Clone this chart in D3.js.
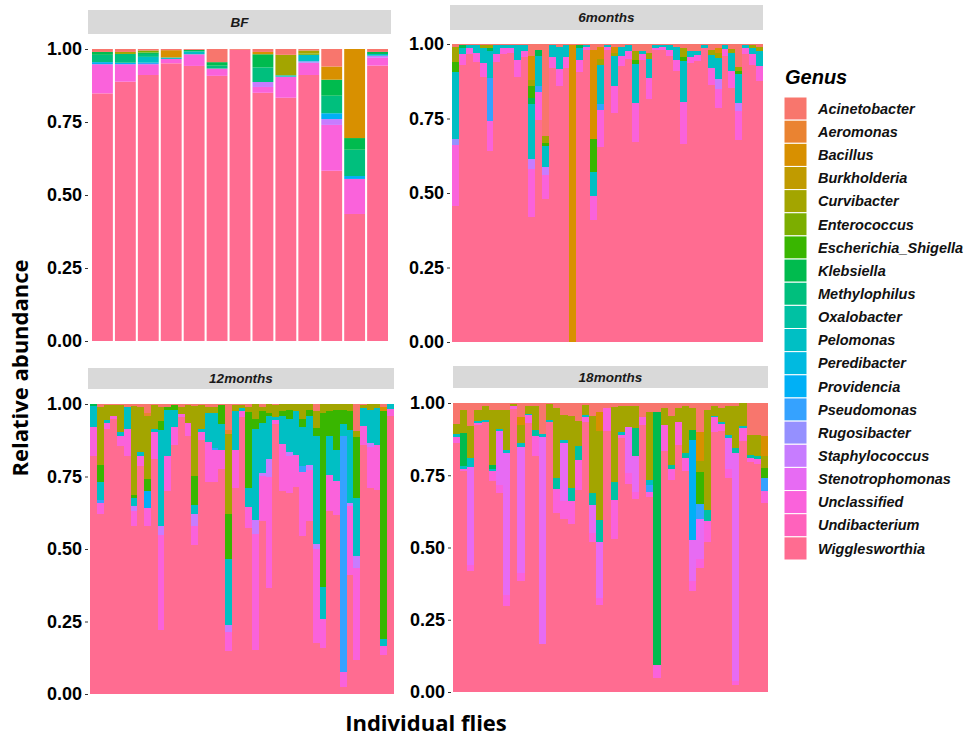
<!DOCTYPE html>
<html>
<head>
<meta charset="utf-8">
<script src="https://cdn.jsdelivr.net/npm/d3@7"></script>
<style>
  body { margin: 0; background: #fff; }
  svg { display: block; font-family: "Liberation Sans", Arial, sans-serif; }
</style>
</head>
<body>
<svg id="chart" width="970" height="738"></svg>
<script>
/* DATA */
const genera = ["Acinetobacter","Aeromonas","Bacillus","Burkholderia","Curvibacter","Enterococcus",
  "Escherichia_Shigella","Klebsiella","Methylophilus","Oxalobacter","Pelomonas","Peredibacter",
  "Providencia","Pseudomonas","Rugosibacter","Staphylococcus","Stenotrophomonas","Unclassified",
  "Undibacterium","Wigglesworthia"];
// short codes used in the fly tables below, same order as genera
const codes = ["Ac","Ae","Ba","Bu","Cu","En","Es","Kl","Me","Ox","Pl","Pr","Pv","Ps","Ru","Sa","St","Un","Ud","Wi"];
const palette = ["#F8766D","#EA8331","#D89000","#C09B00","#A3A500","#7CAE00","#39B600","#00BB4E","#00BF7D","#00C1A3",
  "#00BFC4","#00BAE0","#00B0F6","#35A2FF","#9590FF","#C77CFF","#E76BF3","#FA62DB","#FF62BC","#FF6C91"];
const yTicks = [0, 0.25, 0.5, 0.75, 1];
const groups = ["BF","6months","12months","18months"];

const bfFlies = [
  {Ac:.01, Kl:.01, Me:.025, Pv:.007, Un:.10, Wi:.848},
  {Ac:.01, Cu:.007, Me:.03, Pv:.005, Un:.06, Wi:.888},
  {Ac:.005, En:.007, Kl:.005, Me:.01, Pl:.02, Ps:.005, Un:.037, Wi:.911},
  {Ac:.004, Ba:.025, Pl:.005, Un:.015, Wi:.951},
  {Ac:.003, Kl:.005, Pl:.01, Un:.04, Wi:.942},
  {Ac:.045, Kl:.012, Me:.01, Un:.025, Wi:.908},
  {Ac:.003, Wi:.997},
  {Ac:.01, Ba:.008, Kl:.045, Me:.05, Sa:.017, Un:.02, Wi:.85},
  {Ac:.02, Cu:.07, Pl:.005, Un:.072, Wi:.833},
  {Ac:.005, Cu:.01, En:.005, Pl:.022, Ru:.005, Un:.042, Wi:.911},
  {Ac:.06, Ba:.045, Kl:.055, Me:.06, Pv:.02, Sa:.02, Un:.157, Wi:.583},
  {Ba:.305, Kl:.04, Me:.09, Pv:.01, Un:.12, Wi:.435},
  {Ac:.01, Kl:.007, Pl:.006, Sa:.007, Un:.027, Wi:.943}
];

const m6Flies = [
  {Ac:.01, Cu:.05, Es:.034, Pl:.225, Ru:.02, Un:.205, Wi:.456},
  {Ac:.005, Kl:.01, Pl:.02, Un:.035, Wi:.93},
  {Ac:.005, Pl:.01, Un:.02, Wi:.965},
  {Ac:.005, Pl:.025, Un:.03, Wi:.94},
  {Ac:.005, Cu:.01, Pl:.05, Un:.045, Wi:.89},
  {Ac:.005, Cu:.01, Kl:.01, Pl:.09, Ps:.145, Un:.10, Wi:.64},
  {Ac:.005, Pl:.03, Un:.027, Wi:.938},
  {Ac:.005, Pl:.01, Un:.02, Wi:.965},
  {Ac:.005, Pl:.01, Un:.015, Wi:.97},
  {Ac:.005, Pl:.05, Un:.055, Wi:.89},
  {Ac:.005, Pl:.02, Un:.02, Wi:.955},
  {Ac:.04, Ba:.08, Cu:.02, Es:.04, Kl:.02, Pl:.185, Sa:.035, Un:.16, Wi:.42},
  {Ac:.02, Kl:.02, Pl:.10, Ps:.02, Un:.095, Wi:.745},
  {Ac:.31, Cu:.022, Es:.01, Pl:.07, Sa:.028, Un:.08, Wi:.48},
  {Ac:.005, Pl:.04, Un:.035, Wi:.92},
  {Ac:.01, Pl:.075, Un:.055, Wi:.86},
  {Ac:.005, Pl:.04, Un:.035, Wi:.92},
  {Ac:.005, Ba:.995},
  {Ac:.005, Kl:.01, Pl:.04, Un:.04, Wi:.905},
  {Ac:.005, Pl:.005, Un:.01, Wi:.98},
  {Ac:.02, Ba:.30, Es:.11, Pl:.08, Un:.08, Wi:.41},
  {Ac:.01, Ba:.04, Cu:.02, Pl:.13, Ps:.02, Un:.125, Wi:.655},
  {Ac:.005, Pl:.005, Un:.01, Wi:.98},
  {Ac:.01, Ba:.02, Cu:.01, Pl:.10, Un:.09, Wi:.77},
  {Ac:.01, Pl:.03, Un:.035, Wi:.925},
  {Ac:.005, Pl:.02, Un:.025, Wi:.95},
  {Ac:.025, Cu:.028, Es:.013, Pl:.132, Un:.13, Wi:.672},
  {Ac:.025, Pl:.008, Un:.022, Wi:.945},
  {Ac:.03, Cu:.022, Pl:.062, Un:.07, Wi:.816},
  {Ac:.005, Pl:.01, Un:.005, Wi:.98},
  {Ac:.005, Pl:.005, Un:.01, Wi:.98},
  {Ac:.005, Pl:.015, Un:.02, Wi:.96},
  {Ac:.01, Pl:.045, Un:.035, Wi:.91},
  {Ac:.015, Cu:.028, Es:.013, Pl:.138, Un:.142, Wi:.664},
  {Ac:.025, Pl:.017, Un:.023, Wi:.935},
  {Ac:.025, Pl:.012, Un:.02, Wi:.943},
  {Ac:.003, Pl:.01, Wi:.987},
  {Ac:.02, Cu:.017, Pl:.045, Un:.055, Wi:.863},
  {Ac:.015, Ba:.015, Cu:.017, Pl:.07, Sa:.035, Un:.064, Wi:.784},
  {Ac:.005, Pl:.012, Un:.022, Wi:.961},
  {Ac:.018, Cu:.011, Pl:.06, Un:.06, Wi:.851},
  {Ac:.076, Cu:.013, Es:.011, Pl:.098, Sa:.028, Un:.096, Wi:.678},
  {Ac:.005, Pl:.009, Un:.019, Wi:.967},
  {Ac:.005, Cu:.008, Pl:.022, Un:.035, Wi:.93},
  {Ac:.01, Cu:.015, Pl:.048, Un:.052, Wi:.875}
];

const m12Flies = [
  {Kl:.008, Pl:.07, Un:.102, Wi:.82},
  {Ac:.01, Cu:.20, Es:.06, Pl:.06, Ps:.01, Un:.04, Wi:.62},
  {Ac:.005, Cu:.05, Pl:.01, Un:.02, Wi:.915},
  {Ac:.005, Cu:.035, Un:.013, Wi:.947},
  {Ac:.005, Cu:.09, Pl:.015, Un:.035, Wi:.855},
  {Ac:.01, Pl:.075, Un:.095, Wi:.82},
  {Ac:.008, Cu:.305, Es:.01, Pl:.03, Sa:.017, Un:.052, Wi:.578},
  {Ac:.01, Cu:.155, Pl:.015, Un:.035, Wi:.785},
  {Ac:.03, Ae:.01, Cu:.22, Es:.04, Pv:.06, Un:.06, Wi:.58},
  {Ac:.005, Cu:.08, Pl:.012, Un:.093, Wi:.81},
  {Ac:.01, Cu:.05, Es:.03, Pl:.33, Sa:.03, Un:.33, Wi:.22},
  {Ac:.01, Es:.01, Pl:.16, Un:.12, Wi:.70},
  {Ac:.005, Es:.015, Pl:.06, Un:.06, Wi:.86},
  {Ac:.01, Cu:.025, Un:.01, Wi:.955},
  {Ac:.005, Cu:.06, Un:.045, Wi:.89},
  {Ac:.008, Cu:.24, Es:.10, Pl:.03, Sa:.043, Un:.064, Wi:.515},
  {Ac:.005, Cu:.08, Pl:.01, Un:.03, Wi:.875},
  {Ac:.01, Cu:.02, Pl:.10, Un:.14, Wi:.73},
  {Ac:.01, Cu:.02, Pl:.12, Ps:.01, Un:.11, Wi:.73},
  {Ac:.005, Es:.065, Pl:.09, Un:.065, Wi:.775},
  {Ac:.09, Ae:.015, Cu:.275, Es:.155, Pl:.228, Sa:.023, Un:.064, Wi:.15},
  {Ac:.005, Cu:.02, Pl:.135, Un:.13, Wi:.71},
  {Ac:.005, Cu:.01, Pl:.01, Un:.02, Wi:.955},
  {Ac:.01, Cu:.017, Es:.264, Pl:.063, Un:.075, Wi:.571},
  {Cu:.05, Es:.035, Pl:.316, Sa:.046, Un:.40, Wi:.153},
  {Ac:.01, Cu:.015, Es:.04, Pl:.172, Sa:.012, Un:.155, Wi:.596},
  {Cu:.03, Es:.01, Pl:.15, Sa:.06, Un:.385, Wi:.365},
  {Ac:.005, Cu:.04, Pl:.01, Un:.015, Wi:.93},
  {Cu:.025, Es:.017, Pl:.095, Un:.163, Wi:.70},
  {Cu:.02, Es:.03, Pl:.115, Sa:.014, Un:.128, Wi:.693},
  {Cu:.025, Pl:.15, Un:.11, Wi:.715},
  {Cu:.05, Es:.03, Pl:.135, Ps:.018, Un:.223, Wi:.544},
  {Cu:.02, Es:.022, Pl:.167, Sa:.017, Un:.179, Wi:.595},
  {Ac:.025, Cu:.057, Es:.03, Pl:.37, Sa:.017, Un:.325, Wi:.176},
  {Cu:.031, Es:.60, Pl:.11, Un:.10, Wi:.159},
  {Cu:.025, Es:.087, Pl:.134, Un:.124, Wi:.63},
  {Cu:.02, Es:.137, Pl:.11, Un:.115, Wi:.618},
  {Cu:.02, Es:.05, Pl:.04, Ps:.815, Un:.052, Wi:.023},
  {Cu:.025, Es:.063, Pl:.253, Sa:.012, Un:.235, Wi:.412},
  {Ac:.094, Cu:.021, Es:.209, Pl:.201, Sa:.04, Un:.317, Wi:.118},
  {Ac:.005, Cu:.01, Pl:.062, Un:.063, Wi:.86},
  {Cu:.02, Pl:.115, Sa:.012, Un:.143, Wi:.71},
  {Cu:.015, Pl:.125, Un:.155, Wi:.705},
  {Ac:.01, Ba:.015, Es:.787, Pl:.022, Un:.03, Wi:.136},
  {Pl:.017, Un:.023, Wi:.96}
];

const m18Flies = [
  {Ac:.073, Cu:.035, Pl:.008, Un:.022, Wi:.862},
  {Ac:.023, Cu:.081, Kl:.115, Pl:.01, Un:.005, Wi:.766},
  {Ac:.08, Cu:.11, Pl:.03, St:.34, Un:.02, Wi:.42},
  {Ac:.023, Cu:.04, Pl:.006, Un:.006, Wi:.925},
  {Ac:.01, Cu:.048, Pl:.007, Wi:.935},
  {Ac:.023, Cu:.19, Kl:.017, Pl:.006, Un:.035, Wi:.729},
  {Ac:.023, Cu:.067, Pl:.008, St:.185, Un:.03, Wi:.687},
  {Ac:.023, Cu:.138, Pl:.012, St:.49, Un:.04, Wi:.297},
  {Ac:.005, Cu:.005, Un:.012, Wi:.978},
  {Ac:.05, Ba:.025, Cu:.065, Pl:.012, St:.435, Un:.03, Wi:.383},
  {Ac:.012, Cu:.025, Pl:.006, Un:.025, Wi:.932},
  {Ac:.012, Cu:.08, Ox:.023, Un:.07, Wi:.815},
  {Ac:.107, Pl:.012, St:.715, Wi:.166},
  {Ac:.005, Cu:.055, Pl:.005, Wi:.935},
  {Ac:.017, Cu:.243, Ox:.037, Un:.083, Wi:.62},
  {Ac:.04, Cu:.087, Pl:.012, St:.20, Un:.064, Wi:.597},
  {Ac:.046, Cu:.248, Ox:.046, Un:.08, Wi:.58},
  {Ac:.063, Cu:.087, Ox:.046, Un:.104, Wi:.70},
  {Ac:.006, Cu:.035, Pl:.009, Un:.015, Wi:.935},
  {Ac:.046, Cu:.265, Ox:.043, St:.096, Un:.031, Wi:.519},
  {Ac:.03, Ba:.068, Cu:.306, Ox:.077, St:.194, Un:.023, Wi:.302},
  {Ac:.017, Un:.081, Wi:.902},
  {Ac:.015, Cu:.26, Ox:.06, Un:.135, Wi:.53},
  {Ac:.012, Cu:.087, Pl:.012, Un:.01, Wi:.879},
  {Ac:.012, Cu:.07, St:.16, Un:.04, Wi:.718},
  {Ac:.012, Cu:.075, Me:.095, St:.125, Un:.025, Wi:.668},
  {Ac:.05, Un:.025, Wi:.925},
  {Ac:.03, Cu:.235, Pl:.02, Ps:.022, Un:.018, Wi:.675},
  {Ac:.03, Kl:.875, Un:.046, Wi:.049},
  {Ac:.017, Cu:.06, Un:.09, Wi:.833},
  {Ac:.046, Cu:.167, Ox:.017, Un:.035, Wi:.735},
  {Ac:.017, Cu:.05, Un:.08, Wi:.853},
  {Ac:.012, Cu:.161, Ox:.017, Un:.046, Wi:.764},
  {Ac:.017, Cu:.075, Kl:.035, Pv:.346, St:.144, Un:.035, Wi:.348},
  {Ac:.10, Ba:.10, Cu:.04, Es:.11, Ps:.05, St:.14, Un:.03, Wi:.43},
  {Ac:.025, Cu:.345, Ox:.04, Un:.07, Wi:.52},
  {Ac:.01, Cu:.035, Pl:.005, Un:.05, Wi:.90},
  {Ac:.017, Cu:.05, Pl:.006, Un:.025, Wi:.902},
  {Ac:.012, Cu:.098, Pl:.01, St:.11, Un:.03, Wi:.74},
  {Ac:.012, Cu:.144, Ox:.017, St:.79, Un:.012, Wi:.025},
  {Cu:.08, Pl:.008, Un:.044, Wi:.868},
  {Ac:.11, Cu:.07, Ox:.009, Un:.014, Wi:.797},
  {Ac:.11, Cu:.072, Ox:.012, Un:.017, Wi:.789},
  {Ac:.115, Ba:.07, Cu:.04, Es:.035, Ps:.046, Un:.04, Wi:.654}
];

/* LAYOUT (pixel boxes of each facet) */
const flyTables = [bfFlies, m6Flies, m12Flies, m18Flies];
const layout = [
  {axisX: 88, barL: 92, barR: 388, top: 49, bottom: 341, strip: [88, 391, 10, 34], pad: 0.09, crisp: false},
  {axisX: 450, barL: 452, barR: 763, top: 44, bottom: 342, strip: [450, 763, 5, 30], pad: 0, crisp: true},
  {axisX: 88, barL: 90, barR: 394, top: 404, bottom: 694, strip: [88, 394, 368, 389], pad: 0, crisp: true},
  {axisX: 451, barL: 453, barR: 768, top: 403, bottom: 692, strip: [453, 768, 366, 388], pad: 0, crisp: true}
];

const svg = d3.select("#chart");
const color = d3.scaleOrdinal().domain(codes).range(palette);

// first key ends up at the bottom, so Wigglesworthia first
const stack = d3.stack()
  .keys(codes.slice().reverse())
  .value((d, k) => d[k] || 0)
  .offset(d3.stackOffsetExpand);

groups.forEach((grp, gi) => {
  const L = layout[gi];
  const flies = flyTables[gi];

  const x = d3.scaleBand()
    .domain(d3.range(flies.length))
    .range([L.barL, L.barR])
    .paddingInner(L.pad);

  const y = d3.scaleLinear().domain([0, 1]).range([L.bottom, L.top]);

  const g = svg.append("g");

  // strip
  g.append("rect")
    .attr("x", L.strip[0]).attr("y", L.strip[2])
    .attr("width", L.strip[1] - L.strip[0]).attr("height", L.strip[3] - L.strip[2])
    .attr("fill", "#d9d9d9");
  g.append("text")
    .attr("x", (L.strip[0] + L.strip[1]) / 2)
    .attr("y", (L.strip[2] + L.strip[3]) / 2)
    .attr("dy", "0.36em")
    .attr("text-anchor", "middle")
    .style("font-size", "13.5px")
    .style("font-weight", "bold")
    .style("font-style", "italic")
    .style("fill", "#1a1a1a")
    .text(grp);

  // bars
  g.append("g")
    .attr("shape-rendering", L.crisp ? "crispEdges" : null)
    .selectAll("g")
    .data(stack(flies))
    .join("g")
    .attr("fill", s => color(s.key))
    .selectAll("rect")
    .data(s => s)
    .join("rect")
    .attr("x", (d, i) => x(i))
    .attr("width", x.bandwidth())
    .attr("y", d => y(d[1]))
    .attr("height", d => Math.max(0, y(d[0]) - y(d[1])));

  // y axis
  const yAxis = d3.axisLeft(y)
    .tickValues(yTicks)
    .tickFormat(d3.format(".2f"))
    .tickSize(3)
    .tickPadding(3);
  const ag = g.append("g")
    .attr("transform", `translate(${L.axisX},0)`)
    .call(yAxis);
  ag.select(".domain").remove();
  ag.selectAll(".tick line").attr("stroke", "#333");
  ag.selectAll(".tick text")
    .style("font-size", "18px")
    .style("font-weight", "bold")
    .style("fill", "#000")
    .style("font-family", "'Liberation Sans', Arial, sans-serif");
});

// axis titles
svg.append("text")
  .attr("transform", "translate(28,368) rotate(-90)")
  .attr("text-anchor", "middle")
  .style("font-family", "'Open Sans', sans-serif")
  .style("font-size", "22px")
  .style("font-weight", "bold")
  .text("Relative abundance");

svg.append("text")
  .attr("x", 426)
  .attr("y", 731)
  .attr("text-anchor", "middle")
  .style("font-family", "'Open Sans', sans-serif")
  .style("font-size", "22px")
  .style("font-weight", "bold")
  .text("Individual flies");

// legend
const leg = svg.append("g").attr("transform", "translate(784,0)");
leg.append("text")
  .attr("x", 1).attr("y", 84)
  .style("font-size", "20px")
  .style("font-weight", "bold")
  .style("font-style", "italic")
  .text("Genus");

const keyY = d3.scaleBand().domain(genera).range([97, 560]);
const items = leg.selectAll("g.key")
  .data(genera)
  .join("g")
  .attr("class", "key")
  .attr("transform", d => `translate(0,${keyY(d)})`);
items.append("rect")
  .attr("width", 23)
  .attr("height", keyY.bandwidth())
  .attr("fill", (d, i) => color(codes[i]))
  .attr("stroke", "#fff")
  .attr("stroke-width", 1);
items.append("text")
  .attr("x", 34)
  .attr("y", keyY.bandwidth() / 2)
  .attr("dy", "0.36em")
  .style("font-size", "14.5px")
  .style("font-weight", "bold")
  .style("font-style", "italic")
  .style("fill", "#111")
  .text(d => d);
</script>
</body>
</html>
